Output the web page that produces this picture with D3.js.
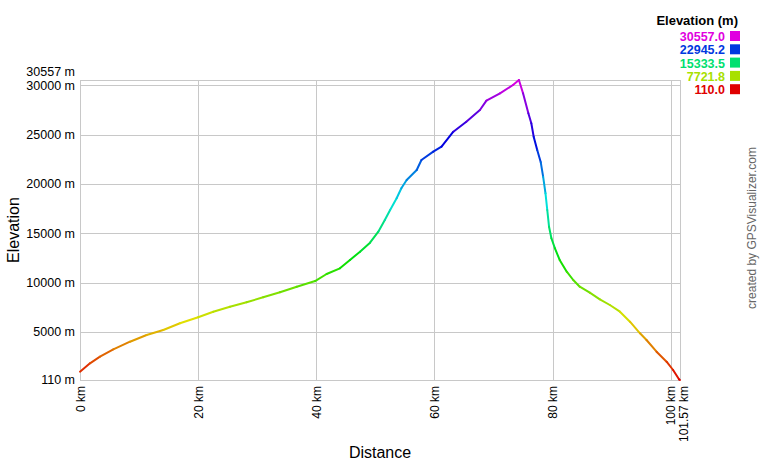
<!DOCTYPE html>
<html><head><meta charset="utf-8">
<script src="https://cdn.jsdelivr.net/npm/d3@7"></script>
<style>
html,body{margin:0;padding:0;background:#fff;}
svg{display:block;font-family:"Liberation Sans",Arial,sans-serif;}
</style></head>
<body>
<svg id="chart" width="760" height="460"></svg>
<script>
const distanceKm = [0,1.69,3.38,5.64,8.46,11.28,14.1,16.92,20.0,22.56,25.38,28.2,31.0,33.85,36.7,39.8,41.75,44.0,45.7,47.4,49.1,50.5,51.6,52.5,53.6,54.4,55.3,57.0,57.8,59.8,61.2,63.2,65.4,67.7,68.8,71.1,73.3,74.3,75.0,75.9,76.4,76.8,77.4,78.0,78.4,78.8,79.1,79.4,79.8,80.4,81.2,82.4,83.5,84.6,86.3,88.0,89.7,91.4,93.1,94.8,95.9,97.6,99.3,100.4,101.4,101.57];
const elevationM = [952,1805,2475,3226,3997,4677,5185,5865,6473,7042,7550,7996,8503,9011,9580,10150,10869,11447,12289,13132,14047,15163,16350,17365,18553,19568,20408,21423,22438,23281,23788,25311,26326,27513,28457,29208,30050,30557,29208,27178,26163,24803,23453,22200,20743,19060,17365,15670,14493,13476,12289,11102,10259,9580,8970,8300,7722,7042,6027,4850,4170,2982,1967,1125,180,110];
const yTickValues = [110,5000,10000,15000,20000,25000,30000,30557];
const xTickValues = [0,20,40,60,80,100,101.57];
const legendValues = [30557.0,22945.2,15333.5,7721.8,110.0];

const svg = d3.select("#chart");
const L = 80, R = 680, T = 80, B = 380;
const x = d3.scaleLinear().domain([0, 101.57]).range([L, R]);
const y = d3.scaleLinear().domain([110, 30557]).range([B, T]);
const hue = d3.scaleLinear().domain([110, 30557]).range([0, 300]);
const col = v => d3.hsl(hue(v), 1, 0.44).formatHex();

// horizontal grid + y labels
const yAxis = d3.axisLeft(y).tickValues(yTickValues)
  .tickSizeInner(-(R - L)).tickSizeOuter(0).tickPadding(5)
  .tickFormat(d => d + " m");
const gy = svg.append("g").attr("transform", `translate(${L},0)`).call(yAxis);
gy.select(".domain").remove();
gy.selectAll("line").attr("stroke", "#c8c8c8").attr("shape-rendering", "crispEdges");
gy.selectAll("text").attr("font-size", 12.5).attr("fill", "#000")
  .attr("font-family", "Liberation Sans, Arial, sans-serif")
  .attr("dy", d => d === 30557 ? "-0.4em" : "0.3em");

// vertical grid + x labels
const xAxis = d3.axisBottom(x).tickValues(xTickValues)
  .tickSizeInner(-(B - T)).tickSizeOuter(0).tickPadding(6)
  .tickFormat(d => d + " km");
const gx = svg.append("g").attr("transform", `translate(0,${B})`).call(xAxis);
gx.select(".domain").remove();
gx.selectAll("line").attr("stroke", "#c8c8c8").attr("shape-rendering", "crispEdges");
gx.selectAll("text").attr("font-size", 12).attr("fill", "#000")
  .attr("font-family", "Liberation Sans, Arial, sans-serif")
  .attr("text-anchor", "end")
  .attr("transform", "rotate(-90)")
  .attr("x", -6).attr("y", d => d === 101.57 ? 3 : 0).attr("dy", "0.35em");

// profile line, coloured by elevation
const pts = distanceKm.map((d, i) => [d, elevationM[i]]);
const seg = d3.pairs(pts);
svg.append("g").selectAll("line").data(seg).join("line")
  .attr("x1", d => x(d[0][0])).attr("y1", d => y(d[0][1]))
  .attr("x2", d => x(d[1][0])).attr("y2", d => y(d[1][1]))
  .attr("stroke", d => col((d[0][1] + d[1][1]) / 2))
  .attr("stroke-width", 2).attr("stroke-linecap", "round");

// axis titles
svg.append("text").attr("x", (L + R) / 2).attr("y", 458).attr("text-anchor", "middle")
  .attr("font-size", 16).text("Distance");
svg.append("text").attr("transform", `translate(19,${(T + B) / 2}) rotate(-90)`)
  .attr("text-anchor", "middle").attr("font-size", 16).text("Elevation");

// legend
svg.append("text").attr("x", 738).attr("y", 25).attr("text-anchor", "end")
  .attr("font-size", 13).attr("font-weight", "bold").text("Elevation (m)");
const lg = svg.append("g").selectAll("g").data(legendValues).join("g")
  .attr("transform", (d, i) => `translate(0,${31 + i * 13.3})`);
lg.append("rect").attr("x", 730).attr("y", 0).attr("width", 10).attr("height", 10)
  .attr("fill", d => col(d));
lg.append("text").attr("x", 725).attr("y", 10).attr("text-anchor", "end")
  .attr("font-size", 12.5).attr("font-weight", "bold").attr("fill", d => col(d))
  .text(d => d.toFixed(1));

// credit
svg.append("text").attr("transform", "translate(756,228) rotate(-90)")
  .attr("text-anchor", "middle").attr("font-size", 12).attr("fill", "#666")
  .text("created by GPSVisualizer.com");
</script>
</body></html>
